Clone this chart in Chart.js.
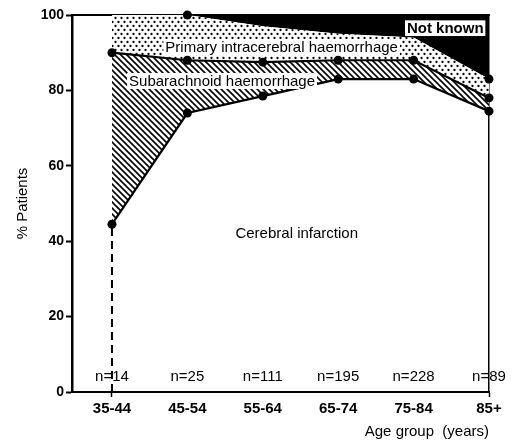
<!DOCTYPE html>
<html><head><meta charset="utf-8">
<script src="https://cdn.jsdelivr.net/npm/chart.js@4.4.1/dist/chart.umd.min.js"></script>
<style>html,body{margin:0;padding:0;background:#fff}</style>
</head><body>
<canvas id="c" width="517" height="443"></canvas>
<script>
// ---- data ----
const categories = ['35-44', '45-54', '55-64', '65-74', '75-84', '85+'];
const nCounts = [14, 25, 111, 195, 228, 89];
// percentage of patients in each age group
const cerebralInfarction = [44.5, 74, 78.5, 83, 83, 74.5];
const subarachnoid = [45.5, 14, 9, 5, 5, 3.5];
const primaryIntracerebral = [10, 12, 9.5, 7, 6, 5];
const notKnown = [0, 0, 3, 5, 6, 17];
const yTicks = [0, 20, 40, 60, 80, 100];

// ---- derived cumulative boundaries ----
function cumulate(...series) {
  return categories.map((c, i) => series.reduce((s, a) => s + a[i], 0));
}
const topCI = cumulate(cerebralInfarction);
const topSAH = cumulate(cerebralInfarction, subarachnoid);
const topPIH = cumulate(cerebralInfarction, subarachnoid, primaryIntracerebral);
const topNK = cumulate(cerebralInfarction, subarachnoid, primaryIntracerebral, notKnown);
const pts = arr => arr.map((v, i) => ({x: i, y: v}));

const canvas = document.getElementById('c');
const ctx = canvas.getContext('2d');

function hatchPattern() {
  const c = document.createElement('canvas'); c.width = 6; c.height = 6;
  const g = c.getContext('2d');
  g.fillStyle = '#fff'; g.fillRect(0, 0, 6, 6);
  g.strokeStyle = '#000'; g.lineWidth = 1.6;
  g.beginPath();
  g.moveTo(-1, -1); g.lineTo(7, 7);
  g.moveTo(-1, 5); g.lineTo(1, 7);
  g.moveTo(5, -1); g.lineTo(7, 1);
  g.stroke();
  return ctx.createPattern(c, 'repeat');
}
function dotPattern() {
  const c = document.createElement('canvas'); c.width = 6; c.height = 8;
  const g = c.getContext('2d');
  g.fillStyle = '#fff'; g.fillRect(0, 0, 6, 8);
  g.fillStyle = '#000';
  [[1.5, 2], [4.5, 6]].forEach(([a, b]) => { g.beginPath(); g.arc(a, b, 1.15, 0, Math.PI * 2); g.fill(); });
  return ctx.createPattern(c, 'repeat');
}

const FONT = '"Liberation Sans", Arial, Helvetica, sans-serif';
const areaLabels = [
  {text: 'Cerebral infarction', x: 2.45, y: 42.2, style: 'plain'},
  {text: 'Subarachnoid haemorrhage', x: 1.46, y: 82.5, style: 'white'},
  {text: 'Primary intracerebral haemorrhage', x: 2.25, y: 91.5, style: 'white'},
  {text: 'Not known', x: 4.42, y: 96.5, style: 'boxed'}
];
const nLabelLevel = 4;

const textPlugin = {
  id: 'texts',
  afterDatasetsDraw(chart) {
    const {ctx, scales: {x, y}} = chart;
    ctx.save();
    ctx.textAlign = 'center';
    ctx.textBaseline = 'middle';
    ctx.fillStyle = '#000';
    ctx.font = '15px ' + FONT;
    categories.forEach((c, i) => {
      ctx.fillText('n=' + nCounts[i], x.getPixelForValue(i), y.getPixelForValue(nLabelLevel));
    });
    areaLabels.forEach(l => {
      ctx.font = (l.style === 'boxed' ? 'bold 15px ' : '15px ') + FONT;
      const px = x.getPixelForValue(l.x), py = y.getPixelForValue(l.y);
      const w = ctx.measureText(l.text).width;
      if (l.style !== 'plain') {
        ctx.fillStyle = '#fff';
        ctx.fillRect(px - w / 2 - 2, py - 8, w + 4, 16);
        if (l.style === 'boxed') {
          ctx.strokeStyle = '#000'; ctx.lineWidth = 1;
          ctx.strokeRect(px - w / 2 - 2.5, py - 8.5, w + 5, 17);
        }
      }
      ctx.fillStyle = '#000';
      ctx.fillText(l.text, px, py + 0.5);
    });
    ctx.restore();
  }
};

const pointAt = idx => c => idx.includes(c.dataIndex) ? 4.5 : 0;

new Chart(ctx, {
  type: 'line',
  data: {
    datasets: [
      {label: 'Cerebral infarction', data: pts(topCI), borderColor: '#000', borderWidth: 2.2,
       pointRadius: 4.5, pointBackgroundColor: '#000', pointBorderWidth: 0, fill: false, tension: 0, clip: false},
      {label: 'Subarachnoid haemorrhage', data: pts(topSAH), borderColor: '#000', borderWidth: 2.2,
       pointRadius: 4.5, pointBackgroundColor: '#000', pointBorderWidth: 0,
       fill: '-1', backgroundColor: hatchPattern(), tension: 0, clip: false},
      {label: 'Primary intracerebral haemorrhage', data: pts(topPIH), borderColor: '#000', borderWidth: 0,
       pointRadius: pointAt([1, 5]), pointBackgroundColor: '#000', pointBorderWidth: 0,
       fill: '-1', backgroundColor: dotPattern(), tension: 0, clip: false},
      {label: 'Not known', data: pts(topNK), borderColor: '#000', borderWidth: 0, pointRadius: 0,
       fill: '-1', backgroundColor: '#000', tension: 0, clip: false},
      {label: 'ref', data: [{x: 0, y: 0}, {x: 0, y: topCI[0]}], borderColor: '#000', borderWidth: 2,
       borderDash: [8, 5], pointRadius: 0, fill: false, clip: false}
    ]
  },
  options: {
    responsive: false,
    animation: false,
    events: [],
    layout: {padding: {top: 15, right: 28, left: 0, bottom: 0}},
    plugins: {legend: {display: false}, tooltip: {enabled: false}},
    scales: {
      x: {
        type: 'linear', position: 'bottom', min: -0.53, max: 5,
        afterBuildTicks: s => { s.ticks = categories.map((c, i) => ({value: i})); },
        afterFit: s => { s.height = 51; },
        ticks: {callback: v => categories[v], color: '#000', font: {family: FONT, size: 15, weight: 'bold'},
                padding: 3, maxRotation: 0, autoSkip: false},
        grid: {drawOnChartArea: false, drawTicks: true, tickLength: 5, tickWidth: 1.5,
               tickColor: c => (c.index === 0 || c.index === 5) ? '#000' : 'rgba(0,0,0,0)'},
        border: {display: true, color: '#000', width: 2},
        title: {display: true, text: 'Age group  (years)', align: 'end', color: '#000',
                font: {family: FONT, size: 15}, padding: {top: 0, bottom: 2}}
      },
      x2: {
        type: 'linear', position: 'top', min: -0.53, max: 5,
        afterFit: s => { s.height = 0; },
        ticks: {display: false}, grid: {display: false, drawTicks: false},
        border: {display: true, color: '#000', width: 2}
      },
      y: {
        min: 0, max: 100,
        afterBuildTicks: s => { s.ticks = yTicks.map(v => ({value: v})); },
        afterFit: s => { s.width = 72; },
        ticks: {color: '#000', font: {family: FONT, size: 14, weight: 'bold'}, padding: 2},
        grid: {drawOnChartArea: false, drawTicks: true, tickLength: 6, tickWidth: 2, tickColor: '#000'},
        border: {display: true, color: '#000', width: 2.5},
        title: {display: true, text: '% Patients', color: '#000', font: {family: FONT, size: 15},
                padding: {top: 14, bottom: 0}}
      },
      y2: {
        position: 'right', min: 0, max: 100,
        afterFit: s => { s.width = 0; },
        ticks: {display: false}, grid: {display: false, drawTicks: false},
        border: {display: true, color: '#000', width: 1.5}
      }
    }
  },
  plugins: [textPlugin]
});
</script>
</body></html>
